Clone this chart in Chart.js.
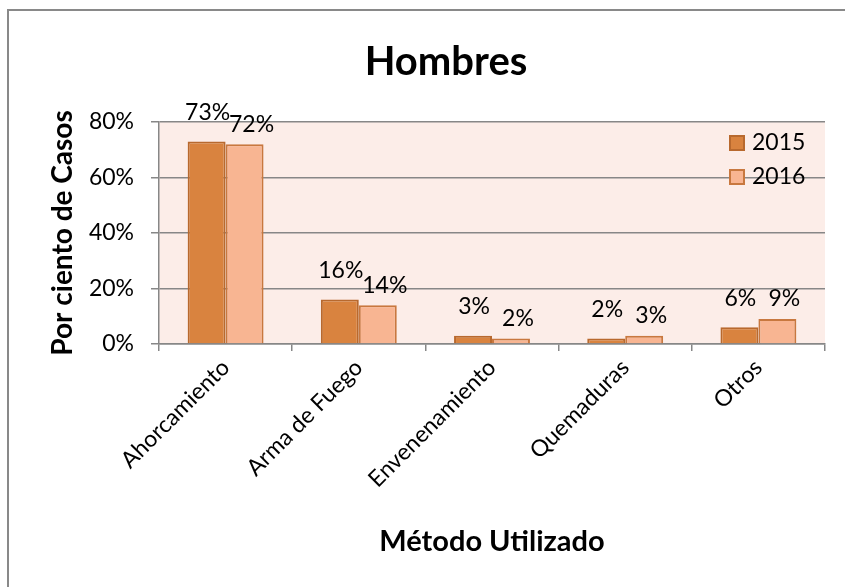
<!DOCTYPE html>
<html>
<head>
<meta charset="utf-8">
<script src="https://cdn.jsdelivr.net/npm/chart.js@4.4.0/dist/chart.umd.min.js"></script>
<style>
  html, body { margin: 0; padding: 0; background: #fff; overflow: hidden; }
  #frame {
    position: absolute; left: 7px; top: 9px; width: 1000px; height: 1000px;
    border-left: 2px solid #898989; border-top: 2px solid #898989;
  }
  #wrap { position: absolute; left: 0; top: 0; width: 845px; height: 587px; }
</style>
</head>
<body>
<div id="frame"></div>
<div id="wrap"><canvas id="hombresChart" width="845" height="587"></canvas></div>
<script>
const categories = ['Ahorcamiento', 'Arma de Fuego', 'Envenenamiento', 'Quemaduras', 'Otros'];
const seriesNames = ['2015', '2016'];
const values2015 = [73, 16, 3, 2, 6];
const values2016 = [72, 14, 2, 3, 9];
const yTicks = [0, 20, 40, 60, 80];

const FONT = 'Lato';
const gridColor = '#878787';

const plotBackground = {
  id: 'plotBackground',
  beforeDraw(chart) {
    const { ctx, chartArea } = chart;
    ctx.save();
    ctx.fillStyle = '#fcede8';
    ctx.fillRect(chartArea.left, chartArea.top, chartArea.right - chartArea.left, chartArea.bottom - chartArea.top);
    ctx.restore();
  }
};

// etiquetas de valor sobre cada barra
const valueLabels = {
  id: 'valueLabels',
  afterDatasetsDraw(chart) {
    const { ctx } = chart;
    const shift = [{ dx: 1, dy: 29 }, { dx: 7, dy: 20 }];
    ctx.save();
    ctx.font = '23px ' + FONT;
    ctx.fillStyle = '#000';
    ctx.textAlign = 'center';
    ctx.textBaseline = 'middle';
    chart.data.datasets.forEach((ds, i) => {
      chart.getDatasetMeta(i).data.forEach((bar, j) => {
        ctx.fillText(ds.data[j] + '%', bar.x + shift[i].dx, bar.y - shift[i].dy);
      });
    });
    ctx.restore();
  }
};

// leyenda dentro del área del gráfico
const innerLegend = {
  id: 'innerLegend',
  afterDraw(chart) {
    const { ctx, chartArea } = chart;
    const x = chartArea.right - 96;
    let y = chartArea.top + 13;
    ctx.save();
    ctx.font = '23px ' + FONT;
    ctx.textBaseline = 'middle';
    ctx.textAlign = 'left';
    chart.data.datasets.forEach((ds) => {
      ctx.fillStyle = ds.backgroundColor;
      ctx.fillRect(x, y, 16, 16);
      ctx.strokeStyle = ds.borderColor;
      ctx.lineWidth = 2;
      ctx.strokeRect(x + 1, y + 1, 14, 14);
      ctx.fillStyle = '#000';
      ctx.fillText(ds.label, x + 23, y + 8);
      y += 34;
    });
    ctx.restore();
  }
};

const ctx = document.getElementById('hombresChart').getContext('2d');

new Chart(ctx, {
  type: 'bar',
  data: {
    labels: categories,
    datasets: [
      {
        label: seriesNames[0],
        data: values2015,
        backgroundColor: '#d9833f',
        borderColor: '#b8692e',
        borderWidth: 2,
        categoryPercentage: 0.57,
        barPercentage: 1
      },
      {
        label: seriesNames[1],
        data: values2016,
        backgroundColor: '#f8b592',
        borderColor: '#c8783f',
        borderWidth: 2,
        categoryPercentage: 0.57,
        barPercentage: 1
      }
    ]
  },
  options: {
    responsive: false,
    animation: false,
    layout: { padding: { top: 0, right: 20, bottom: 0, left: 67 } },
    plugins: {
      legend: { display: false },
      tooltip: { enabled: false },
      title: {
        display: true,
        text: 'Hombres',
        color: '#000',
        font: { family: FONT, size: 40, weight: 'bold' },
        padding: { top: 38, bottom: 36 }
      }
    },
    scales: {
      x: {
        afterFit(scale) { scale.height = 243; },
        grid: { drawOnChartArea: false, color: gridColor, lineWidth: 1.5, tickLength: 7 },
        border: { color: gridColor, width: 1.5 },
        ticks: {
          color: '#000',
          font: { family: FONT, size: 23 },
          minRotation: 45,
          maxRotation: 45,
          autoSkip: false
        },
        title: {
          display: true,
          text: 'Método Utilizado',
          color: '#000',
          font: { family: FONT, size: 29, weight: 'bold' },
          padding: { top: 0, bottom: 28 }
        }
      },
      y: {
        min: 0,
        max: 80,
        afterFit(scale) { scale.width = 92; },
        afterBuildTicks(scale) { scale.ticks = yTicks.map(v => ({ value: v })); },
        grid: { color: gridColor, lineWidth: 1.5, tickLength: 8 },
        border: { color: gridColor, width: 1.5 },
        ticks: {
          color: '#000',
          font: { family: FONT, size: 23 },
          padding: 17,
          callback: (v) => v + '%'
        },
        title: {
          display: true,
          text: 'Por ciento de Casos',
          color: '#000',
          font: { family: FONT, size: 28, weight: 'bold' },
          padding: { top: -21, bottom: 0 }
        }
      }
    }
  },
  plugins: [plotBackground, valueLabels, innerLegend]
});
</script>
</body>
</html>
